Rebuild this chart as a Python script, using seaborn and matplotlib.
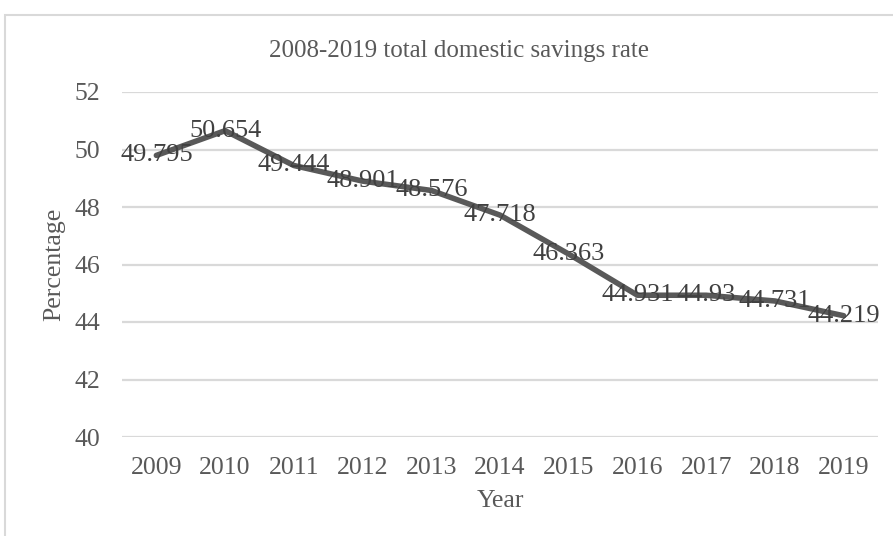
import matplotlib
matplotlib.use("Agg")
import matplotlib.pyplot as plt
import seaborn as sns
import pandas as pd
from matplotlib.patches import Rectangle

years = ["2009", "2010", "2011", "2012", "2013", "2014", "2015", "2016", "2017", "2018", "2019"]
rates = [49.795, 50.654, 49.444, 48.901, 48.576, 47.718, 46.363, 44.931, 44.93, 44.731, 44.219]
labels = ["49.795", "50.654", "49.444", "48.901", "48.576", "47.718", "46.363", "44.931", "44.93", "44.731", "44.219"]
yticks = [40, 42, 44, 46, 48, 50, 52]

sns.set_theme(style="white")
plt.rcParams['font.family'] = ['Liberation Serif', 'DejaVu Serif']

df = pd.DataFrame({"Year": years, "Percentage": rates})

fig = plt.figure(figsize=(8.93, 5.36), dpi=100)
ax = fig.add_axes([122/893, 1-437/536, (878-122)/893, (437-92)/536])

# outer border
fig.patches.append(Rectangle((5/893, -0.1), 1.2, 1-15/536+0.1, transform=fig.transFigure,
                             fill=False, edgecolor="#d9d9d9", linewidth=1.5, zorder=0))

sns.lineplot(data=df, x="Year", y="Percentage", ax=ax, color="#595959", linewidth=4,
             sort=False, zorder=3)

for i, (v, t) in enumerate(zip(rates, labels)):
    ax.text(i, v, t, ha="center", va="center", fontsize=19, color="#404040", zorder=4)

ax.set_ylim(40, 52)
ax.set_xlim(-0.5, len(years) - 0.5)
ax.set_yticks(yticks)
ax.set_yticklabels([str(t) for t in yticks])
for s in ax.spines.values():
    s.set_visible(False)
ax.grid(axis="y", color="#d9d9d9", linewidth=1.6)
ax.grid(axis="x", visible=False)
ax.set_axisbelow(True)
ax.tick_params(axis="y", length=0, pad=16, labelsize=18.5, labelcolor="#595959")
ax.tick_params(axis="x", length=0, pad=14.5, labelsize=18.5, labelcolor="#595959")
ax.set_xlabel("Year", fontsize=18.5, color="#595959", labelpad=8)
ax.set_ylabel("Percentage", fontsize=18.5, color="#595959", labelpad=6)
fig.text(459/893, 1-51/536, "2008-2019 total domestic savings rate", ha="center", va="center",
         fontsize=18, color="#595959")

fig.savefig("out.png", dpi=100, facecolor="white")
